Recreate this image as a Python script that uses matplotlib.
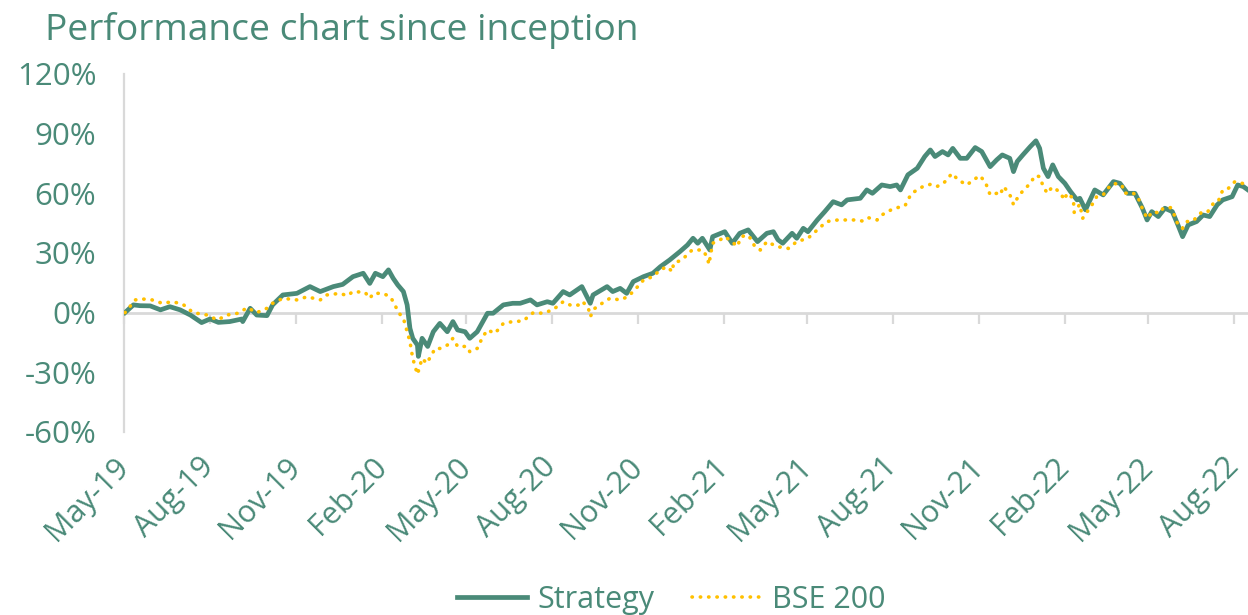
import pandas as pd
import matplotlib
matplotlib.use('Agg')
import matplotlib.pyplot as plt
import matplotlib.dates as mdates
from matplotlib.ticker import FuncFormatter

plt.rcParams['font.family'] = ['Open Sans', 'DejaVu Sans']

TEAL = '#4A8A78'
GOLD = '#FFC000'
GREY = '#D9D9D9'

inception = pd.Timestamp('2019-05-01')

# days since inception / cumulative return in %
strategy_days = [1, 10, 17, 28, 39, 49, 60, 71, 83, 92, 101, 113, 126, 127, 135, 142, 153, 159,
                 170, 185, 199, 210, 224, 234, 245, 256, 263, 269, 277, 283, 288, 293, 299, 303,
                 306, 309, 314, 315, 319, 325, 331, 338, 346, 352, 357, 365, 370, 378, 389, 395,
                 406, 416, 424, 435, 442, 453, 459, 470, 477, 490, 499, 502, 517, 523, 531, 538,
                 545, 556, 566, 574, 584, 595, 603, 609, 614, 619, 627, 630, 643, 651, 659, 668,
                 678, 688, 695, 700, 705, 715, 720, 727, 732, 742, 750, 759, 768, 774, 788, 795,
                 801, 811, 820, 827, 831, 839, 849, 857, 863, 868, 876, 882, 887, 895, 902, 911,
                 918, 927, 934, 940, 948, 952, 956, 962, 970, 976, 980, 984, 989, 994, 1000, 1007,
                 1013, 1020, 1023, 1029, 1039, 1048, 1059, 1066, 1074, 1082, 1090, 1095, 1100,
                 1107, 1114, 1122, 1128, 1133, 1139, 1148, 1155, 1162, 1170, 1176, 1186, 1192,
                 1198, 1203]
strategy_ret = [0, 3.9, 3.5, 3.4, 1.4, 3.0, 1.4, -1.2, -5.0, -3.2, -4.9, -4.5, -3.2, -4.5, 2.2,
                -1.2, -1.5, 3.9, 8.9, 9.7, 13.1, 10.6, 13.1, 14.2, 18.1, 19.8, 14.7, 19.8, 18.1,
                21.5, 17.3, 13.9, 10.6, 3.9, -7.9, -12.9, -16.3, -22, -12.9, -17, -9.6, -5.4,
                -9.6, -4.5, -8.7, -9.6, -12.9, -9.6, -0.3, -0.3, 3.9, 4.7, 4.7, 6.4, 3.9, 5.5,
                4.7, 10.6, 8.9, 13.1, 4.7, 8.9, 13.1, 10.6, 12.2, 9.7, 15.6, 18.1, 19.8, 23.1,
                26.5, 30.7, 34, 37.4, 34.9, 37.4, 31.5, 38.2, 40.7, 34.9, 39.9, 41.6, 35.7, 39.9,
                40.7, 36.6, 34.9, 39.9, 37.4, 42.4, 40.7, 46.6, 50.8, 55.8, 54.2, 56.7, 57.5,
                61.7, 60, 64.2, 63.4, 64.2, 61.7, 69.3, 72.6, 78.5, 81.8, 78.5, 81, 79.3, 82.6,
                77.6, 77.6, 83, 81, 73.4, 76.8, 79.3, 77.6, 70.9, 76, 79.3, 83.5, 86.4, 82.6,
                72.6, 68.4, 74.3, 68.4, 65, 60.9, 56.7, 57.5, 51.7, 61.7, 59.2, 65.9, 65, 60,
                60, 52.5, 46.6, 50.8, 48.3, 52.5, 50.8, 44.1, 38.2, 44.1, 45.8, 49.1, 48.3,
                54.2, 56.7, 58.3, 64.2, 63.4, 61.7]

bse_days = [1, 12, 19, 30, 41, 52, 63, 74, 89, 100, 110, 122, 132, 142, 153, 159, 170, 185,
            196, 210, 217, 231, 239, 245, 258, 263, 267, 277, 285, 290, 293, 299, 303, 306,
            309, 314, 319, 324, 330, 333, 338, 346, 352, 357, 367, 370, 378, 384, 389, 397,
            406, 416, 427, 438, 448, 459, 470, 479, 488, 491, 497, 499, 504, 509, 520, 531,
            539, 545, 556, 566, 574, 581, 587, 588, 597, 608, 619, 624, 626, 630, 638, 643,
            651, 656, 661, 667, 672, 675, 681, 688, 699, 711, 720, 732, 742, 752, 764, 782,
            790, 796, 806, 811, 823, 836, 839, 843, 855, 863, 870, 877, 882, 886, 893, 902,
            909, 916, 922, 927, 934, 938, 941, 946, 950, 952, 957, 962, 970, 975, 980, 983,
            988, 993, 996, 1002, 1007, 1009, 1016, 1017, 1023, 1026, 1031, 1036, 1041, 1048,
            1053, 1059, 1068, 1071, 1079, 1085, 1090, 1095, 1101, 1109, 1112, 1120, 1125,
            1128, 1133, 1138, 1144, 1154, 1160, 1166, 1171, 1176, 1182, 1189, 1197, 1202]
bse_ret = [0, 6.4, 6.9, 6.4, 4.7, 5.5, 4.2, 0, -1.2, -3.7, -1.2, -0.3, 2.5, 0, 2.2, 4.7, 7.2,
           6.4, 8.0, 6.4, 8.9, 9.7, 8.5, 10.6, 10.2, 7.2, 9.7, 9.7, 8.0, 3.9, 0.5, -2.9, -9.6,
           -14.6, -23, -31, -23, -25.5, -20.5, -18, -18, -16.3, -12.9, -17, -17, -19.6, -18,
           -12.1, -8.7, -10.4, -5.4, -4.5, -4.2, 0, -0.3, 1.4, 5.5, 3.5, 3.9, 5.5, 2.2, -2,
           2.2, 3.9, 7.2, 6.4, 8.0, 10.6, 16.4, 18.1, 21.5, 23.1, 20.6, 24.8, 26.5, 31.5,
           31.5, 28.2, 24.3, 34.9, 36.6, 38.2, 35.7, 33.2, 38.2, 39.1, 36.6, 33.2, 31.5, 35.7,
           33.2, 32.3, 35.7, 37.4, 41.6, 45.8, 46.6, 46.6, 46.1, 47.8, 46.6, 49.1, 52.2, 53.8,
           56.7, 60, 63.4, 64.5, 63.4, 65, 67.6, 70, 66.7, 64.2, 66.7, 68.9, 65.5, 59.2, 60,
           59.2, 63.4, 60.9, 57.5, 54.2, 58.3, 61.2, 65, 68.9, 68.4, 64.5, 60, 62.9, 62.9, 60,
           56.7, 60, 57.5, 50.4, 54.5, 47.4, 50.8, 54.2, 58.3, 59.2, 62.5, 65, 64.2, 60, 60.5,
           58.3, 52.2, 47.4, 50.8, 50, 52.5, 52.8, 48.3, 44.1, 42.4, 45.8, 46.1, 50.8, 50.8,
           55, 55.8, 61.7, 62.5, 65.9, 65, 65]

strategy = pd.Series(strategy_ret, index=inception + pd.to_timedelta(strategy_days, unit='D'))
bse = pd.Series(bse_ret, index=inception + pd.to_timedelta(bse_days, unit='D'))

fig = plt.figure(figsize=(12.48, 6.15), dpi=100)
ax = fig.add_axes([0.0994, 0.2976, 0.9006, 0.5821])

ax.plot(strategy.index, strategy.values, color=TEAL, lw=3.4, solid_joinstyle='round',
        label='Strategy', zorder=3)
ax.plot(bse.index, bse.values, color=GOLD, lw=2.6, linestyle=(0, (0.1, 2.2)),
        dash_capstyle='round', label='BSE 200', zorder=4)

ax.set_ylim(-60, 120)
ax.set_yticks(range(-60, 121, 30))
ax.yaxis.set_major_formatter(FuncFormatter(lambda v, p: f'{v:.0f}%'))
ax.set_xlim(inception, inception + pd.Timedelta(days=1203))
ax.set_xticks(pd.date_range('2019-05-01', '2022-08-01', freq='3MS'))
ax.xaxis.set_major_formatter(mdates.DateFormatter('%b-%y'))

for s in ['top', 'right']:
    ax.spines[s].set_visible(False)
ax.spines['left'].set_color(GREY)
ax.spines['left'].set_linewidth(1.6)
ax.spines['bottom'].set_position(('data', 0))
ax.spines['bottom'].set_color(GREY)
ax.spines['bottom'].set_linewidth(2)

ax.tick_params(axis='y', length=0, pad=20, labelsize=22.5, labelcolor=TEAL)
ax.tick_params(axis='x', length=8, width=1.6, color=GREY, direction='out',
               pad=100, labelsize=22, labelcolor=TEAL)
for lab in ax.get_xticklabels():
    lab.set_rotation(45)
    lab.set_ha('right')
    lab.set_va('center')
    lab.set_rotation_mode('anchor')

fig.text(0.036, 0.935, 'Performance chart since inception', fontsize=26.7, color=TEAL,
         ha='left', va='baseline')

ax.legend(loc='center', bbox_to_anchor=(0.538, 0.025), bbox_transform=fig.transFigure,
          ncol=2, frameon=False, fontsize=22, labelcolor=TEAL, handlelength=2.3,
          handletextpad=0.35, columnspacing=1.2)

fig.savefig('out.png', dpi=100)
